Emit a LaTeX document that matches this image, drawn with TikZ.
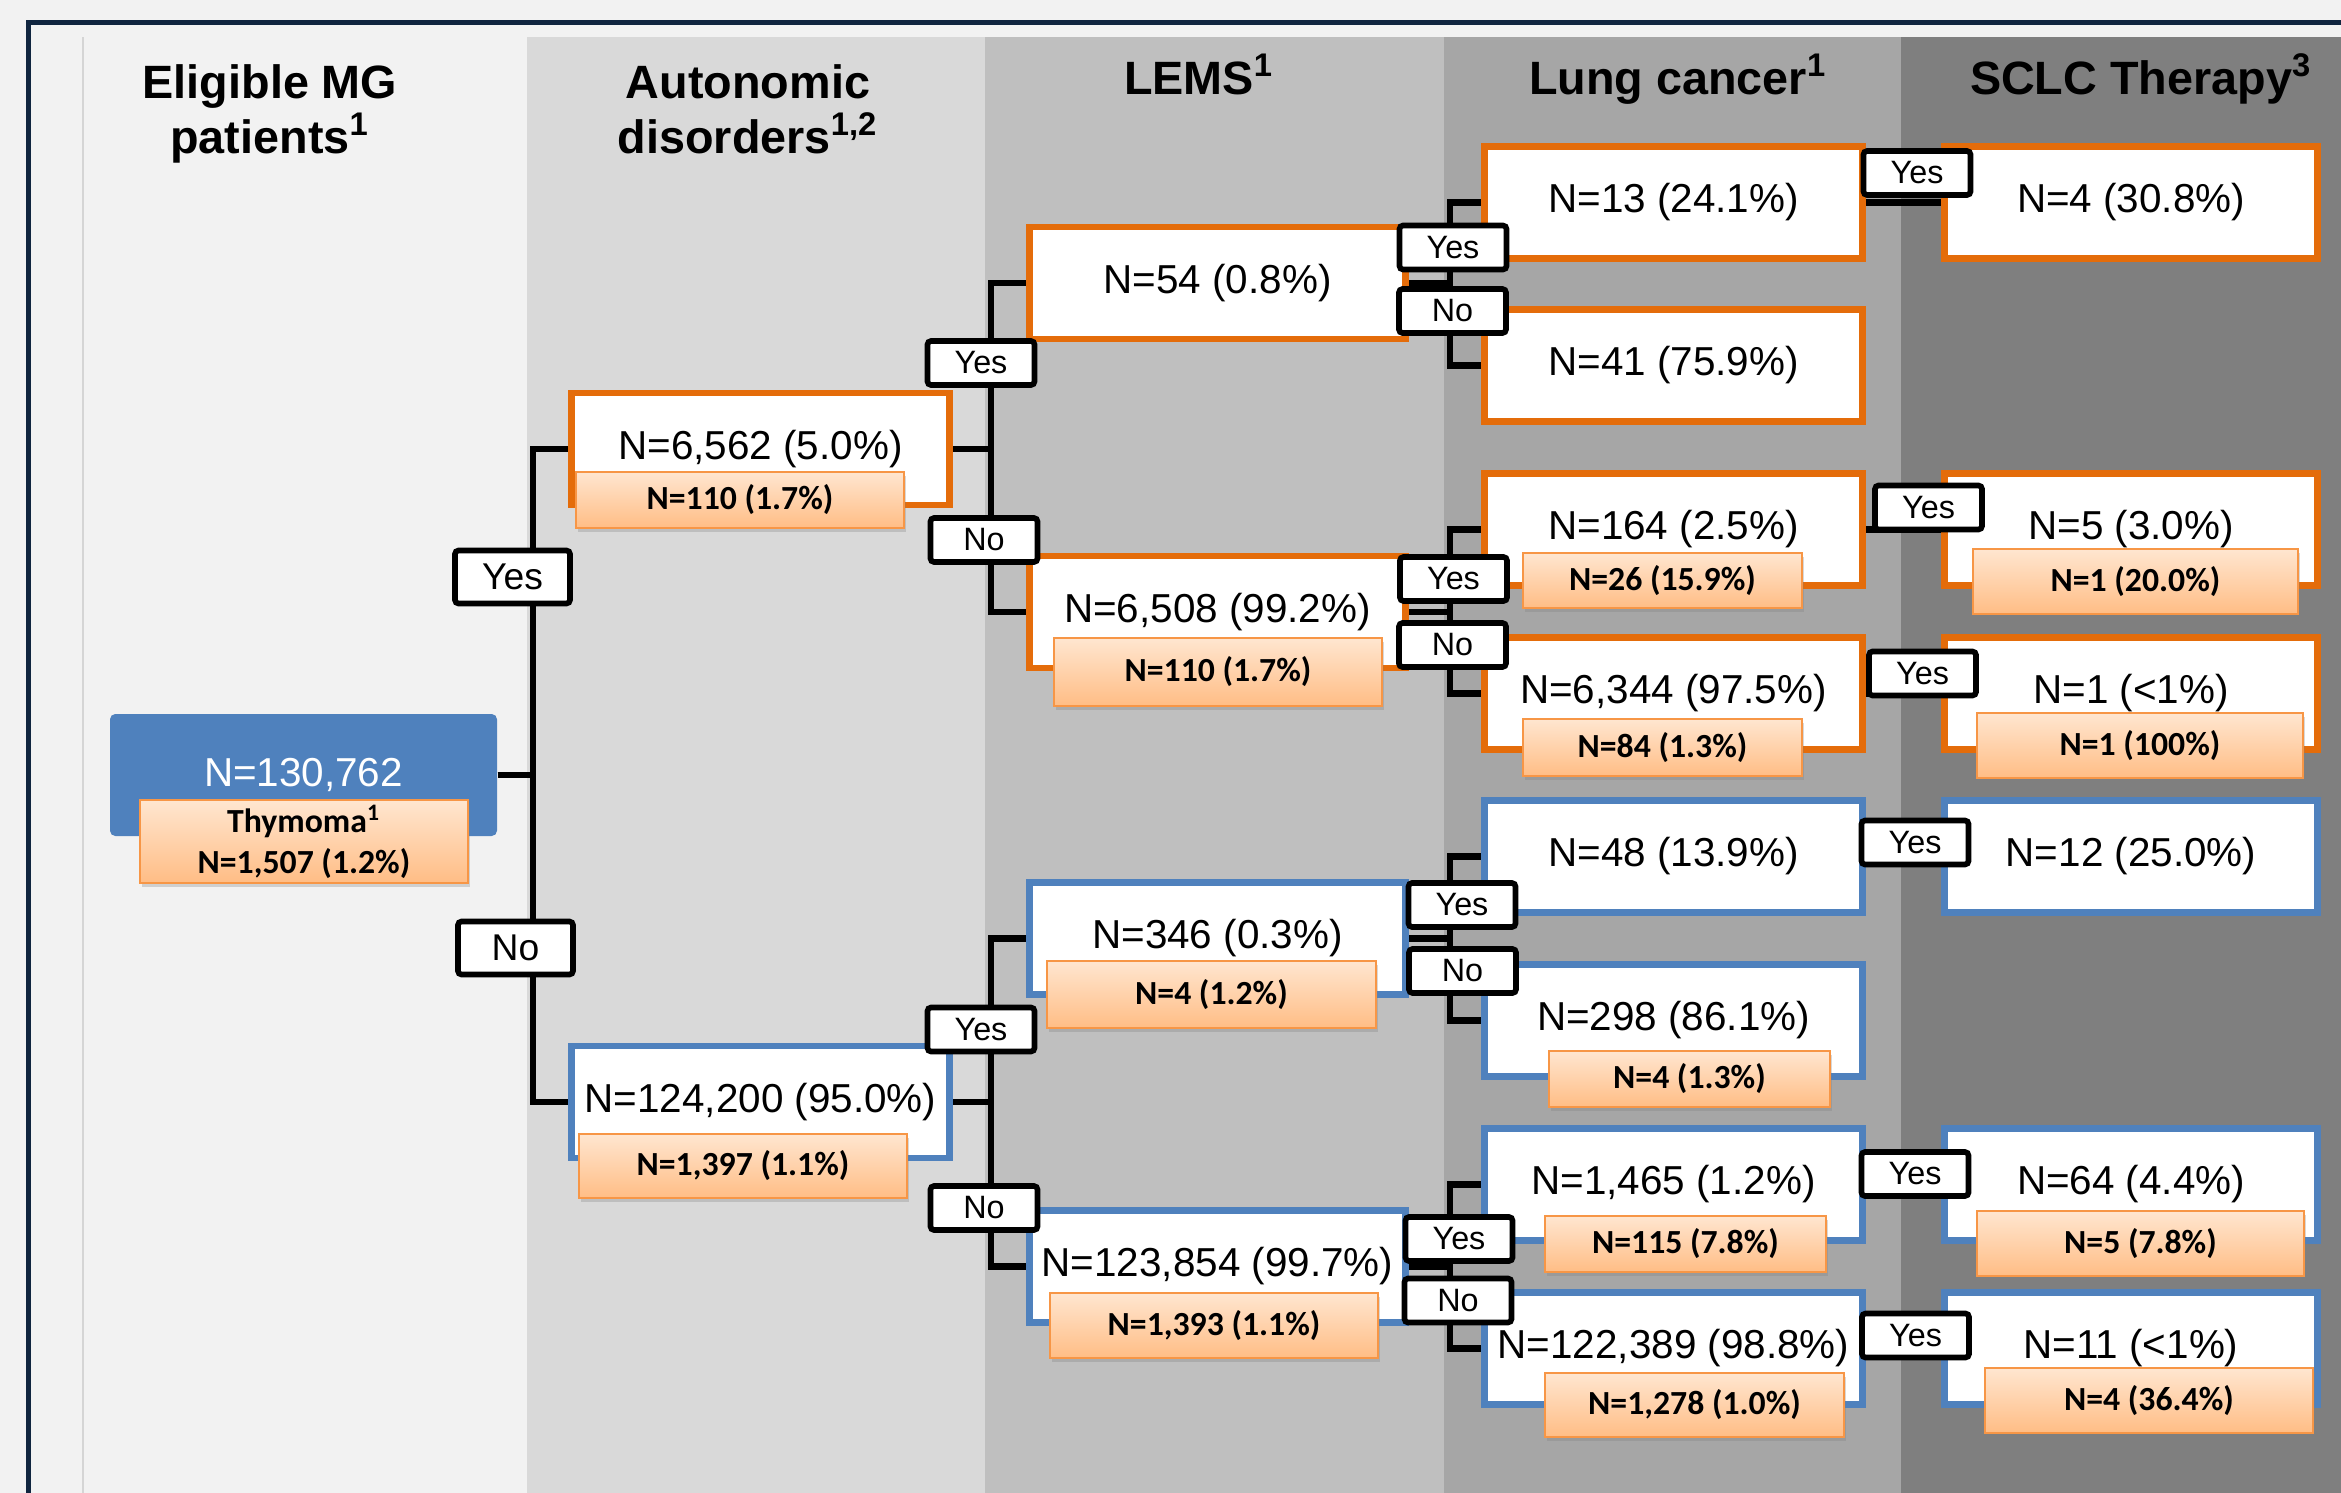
\documentclass[tikz,border=0pt]{standalone}
\usepackage{fontspec}
\setmainfont{Liberation Sans}
\newfontfamily\calibri{Carlito}
\usepackage{tikz}
\usetikzlibrary{positioning,shadows,backgrounds}
\definecolor{Frame}{HTML}{10253F}
\definecolor{Paper}{HTML}{F2F2F2}
\definecolor{ColA}{HTML}{F2F2F2}
\definecolor{ColB}{HTML}{D9D9D9}
\definecolor{ColC}{HTML}{BFBFBF}
\definecolor{ColD}{HTML}{A6A6A6}
\definecolor{ColE}{HTML}{7F7F7F}
\definecolor{Blue}{HTML}{4F81BD}
\definecolor{Orange}{HTML}{E46C0A}
\definecolor{PeachTop}{HTML}{FFE6D0}
\definecolor{PeachBot}{HTML}{FFBD85}
\definecolor{PeachLine}{HTML}{F79646}
\pgfdeclarelayer{cols}
\pgfdeclarelayer{wires}
\pgfsetlayers{cols,wires,main}
\tikzset{
  header/.style={font=\fontsize{13.3}{15.6}\selectfont\bfseries,align=center,anchor=north,inner sep=0pt},
  obox/.style={draw=Orange,line width=1.9pt,fill=white,minimum width=3.78cm,minimum height=1.12cm,
               inner sep=0pt,font=\fontsize{11.5}{13}\selectfont},
  bbox/.style={obox,draw=Blue},
  subbox/.style={draw=PeachLine,line width=0.6pt,top color=PeachTop,bottom color=PeachBot,inner sep=0pt,
               align=center,font=\calibri\bfseries\fontsize{9.6}{11.4}\selectfont,
               drop shadow={shadow xshift=0.02cm,shadow yshift=-0.04cm,opacity=0.3}},
  answer/.style={draw=black,line width=1.6pt,fill=white,rounded corners=1pt,minimum width=1.07cm,
               minimum height=0.44cm,inner sep=0pt,font=\fontsize{9.2}{10}\selectfont},
  bigans/.style={answer,minimum width=1.15cm,minimum height=0.53cm,font=\fontsize{10.6}{12}\selectfont},
  link/.style={line width=1.8pt,draw=black}
}

\begin{document}
\begin{tikzpicture}
  \useasboundingbox (0,0) rectangle (23.41,-14.93);
  \begin{pgfonlayer}{cols}
    \fill[Paper] (0,0) rectangle (23.41,-14.93);
    \fill[ColA] (0.83,-0.37) rectangle (5.27,-14.93);
    \draw[ColA!88!black,line width=0.4pt] (0.83,-14.93) -- (0.83,-0.37);
    \fill[ColB] (5.27,-0.37) rectangle (9.85,-14.93);
    \fill[ColC] (9.85,-0.37) rectangle (14.44,-14.93);
    \fill[ColD] (14.44,-0.37) rectangle (19.01,-14.93);
    \fill[ColE] (19.01,-0.37) rectangle (23.41,-14.93);
    \draw[Frame,line width=0.05cm] (0.29,-14.93) |- (23.41,-0.23);
  \end{pgfonlayer}

  % column heads
  \node[header] (hmg) at (2.70,-0.64) {Eligible MG\\patients\textsuperscript{1}};
  \node[header] (haut) at (7.48,-0.64) {Autonomic\\disorders\textsuperscript{1,2}};
  \node[header] (hlems) at (11.99,-0.53) {LEMS\textsuperscript{1}};
  \node[header] (hlung) at (16.78,-0.53) {Lung cancer\textsuperscript{1}};
  \node[header] (hsclc) at (21.41,-0.53) {SCLC Therapy\textsuperscript{3}};

  % tree
  \node[fill=Blue,rounded corners=1.5pt,minimum width=3.87cm,minimum height=1.22cm,inner sep=0pt,
        text=white,font=\fontsize{11.5}{13}\selectfont] (mg) at (3.035,-7.75) {N=130,762};
  \node[obox] (aut) at (7.605,-4.49) {N=6,562 (5.0\%)};
  \node[bbox] (naut) at (7.605,-11.02) {N=124,200 (95.0\%)};

  \node[obox,minimum width=3.76cm] (lems) at (12.175,-2.83) {N=54 (0.8\%)};
  \node[obox,minimum width=3.76cm] (nlems) at (12.175,-6.12) {N=6,508 (99.2\%)};
  \node[bbox,minimum width=3.76cm] (lemsb) at (12.175,-9.385) {N=346 (0.3\%)};
  \node[bbox,minimum width=3.76cm] (nlemsb) at (12.175,-12.665) {N=123,854 (99.7\%)};

  \node[obox] (lc1) at (16.735,-2.025) {N=13 (24.1\%)};
  \node[obox] (nlc1) at (16.735,-3.655) {N=41 (75.9\%)};
  \node[obox] (lc2) at (16.735,-5.295) {N=164 (2.5\%)};
  \node[obox] (nlc2) at (16.735,-6.935) {N=6,344 (97.5\%)};
  \node[bbox] (lc3) at (16.735,-8.565) {N=48 (13.9\%)};
  \node[bbox] (nlc3) at (16.735,-10.205) {N=298 (86.1\%)};
  \node[bbox] (lc4) at (16.735,-11.845) {N=1,465 (1.2\%)};
  \node[bbox] (nlc4) at (16.735,-13.485) {N=122,389 (98.8\%)};

  \node[obox,minimum width=3.73cm] (tx1) at (21.31,-2.025) {N=4 (30.8\%)};
  \node[obox,minimum width=3.73cm] (tx2) at (21.31,-5.295) {N=5 (3.0\%)};
  \node[obox,minimum width=3.73cm] (tx2b) at (21.31,-6.935) {N=1 (<1\%)};
  \node[bbox,minimum width=3.73cm] (tx3) at (21.31,-8.565) {N=12 (25.0\%)};
  \node[bbox,minimum width=3.73cm] (tx4) at (21.31,-11.845) {N=64 (4.4\%)};
  \node[bbox,minimum width=3.73cm] (tx4b) at (21.31,-13.485) {N=11 (<1\%)};

  \begin{pgfonlayer}{wires}
    \draw[link] (mg.east) -- ++(0.35,0) |- (aut.west);
    \draw[link] (mg.east) -- ++(0.35,0) |- (naut.west);
    \draw[link] (aut.east) -- ++(0.38,0) |- (lems.west);
    \draw[link] (aut.east) -- ++(0.38,0) |- (nlems.west);
    \draw[link] (naut.east) -- ++(0.38,0) |- (lemsb.west);
    \draw[link] (naut.east) -- ++(0.38,0) |- (nlemsb.west);
    \draw[link] (lems.east) -- ++(0.41,0) |- (lc1.west);
    \draw[link] (lems.east) -- ++(0.41,0) |- (nlc1.west);
    \draw[link] (nlems.east) -- ++(0.41,0) |- (lc2.west);
    \draw[link] (nlems.east) -- ++(0.41,0) |- (nlc2.west);
    \draw[link] (lemsb.east) -- ++(0.41,0) |- (lc3.west);
    \draw[link] (lemsb.east) -- ++(0.41,0) |- (nlc3.west);
    \draw[link] (nlemsb.east) -- ++(0.41,0) |- (lc4.west);
    \draw[link] (nlemsb.east) -- ++(0.41,0) |- (nlc4.west);
    \draw[link] (lc1.east) -- (tx1.west);
    \draw[link] (lc2.east) -- (tx2.west);
    \draw[link] (nlc2.east) -- (tx2b.west);
    \draw[link] (lc3.east) -- (tx3.west);
    \draw[link] (lc4.east) -- (tx4.west);
    \draw[link] (nlc4.east) -- (tx4b.west);
  \end{pgfonlayer}

  % thymoma counts
  \node[subbox,minimum width=3.28cm,minimum height=0.83cm] (thy) at (3.04,-8.415) {Thymoma\textsuperscript{1}\\N=1,507 (1.2\%)};
  \node[subbox,minimum width=3.28cm,minimum height=0.56cm] (saut) at (7.40,-5.00) {N=110 (1.7\%)};
  \node[subbox,minimum width=3.28cm,minimum height=0.64cm] (snaut) at (7.43,-11.66) {N=1,397 (1.1\%)};
  \node[subbox,minimum width=3.28cm,minimum height=0.68cm] (snlems) at (12.18,-6.72) {N=110 (1.7\%)};
  \node[subbox,minimum width=3.29cm,minimum height=0.67cm] (slemsb) at (12.115,-9.945) {N=4 (1.2\%)};
  \node[subbox,minimum width=3.28cm,minimum height=0.65cm] (snlemsb) at (12.14,-13.255) {N=1,393 (1.1\%)};
  \node[subbox,minimum width=2.79cm,minimum height=0.55cm] (slc2) at (16.625,-5.805) {N=26 (15.9\%)};
  \node[subbox,minimum width=2.79cm,minimum height=0.57cm] (snlc2) at (16.625,-7.475) {N=84 (1.3\%)};
  \node[subbox,minimum width=2.81cm,minimum height=0.56cm] (snlc3) at (16.895,-10.79) {N=4 (1.3\%)};
  \node[subbox,minimum width=2.81cm,minimum height=0.56cm] (slc4) at (16.855,-12.44) {N=115 (7.8\%)};
  \node[subbox,minimum width=2.99cm,minimum height=0.64cm] (snlc4) at (16.945,-14.05) {N=1,278 (1.0\%)};
  \node[subbox,minimum width=3.25cm,minimum height=0.65cm] (stx2) at (21.355,-5.815) {N=1 (20.0\%)};
  \node[subbox,minimum width=3.26cm,minimum height=0.65cm] (stx2b) at (21.40,-7.455) {N=1 (100\%)};
  \node[subbox,minimum width=3.27cm,minimum height=0.65cm] (stx4) at (21.405,-12.435) {N=5 (7.8\%)};
  \node[subbox,minimum width=3.28cm,minimum height=0.65cm] (stx4b) at (21.49,-14.005) {N=4 (36.4\%)};

  % yes / no tags
  \node[bigans] (y1) at (5.125,-5.77) {Yes};
  \node[bigans] (n1) at (5.155,-9.48) {No};
  \node[answer] (y2a) at (9.81,-3.63) {Yes};
  \node[answer] (n2a) at (9.84,-5.40) {No};
  \node[answer] (y2b) at (9.81,-10.295) {Yes};
  \node[answer] (n2b) at (9.84,-12.08) {No};
  \node[answer] (y3a) at (14.53,-2.475) {Yes};
  \node[answer] (n3a) at (14.525,-3.11) {No};
  \node[answer] (y3b) at (14.535,-5.79) {Yes};
  \node[answer] (n3b) at (14.525,-6.45) {No};
  \node[answer] (y3c) at (14.62,-9.05) {Yes};
  \node[answer] (n3c) at (14.625,-9.71) {No};
  \node[answer] (y3d) at (14.59,-12.39) {Yes};
  \node[answer] (n3d) at (14.58,-13.005) {No};
  \node[answer] (y4a) at (19.17,-1.73) {Yes};
  \node[answer] (y4b) at (19.285,-5.075) {Yes};
  \node[answer] (y4c) at (19.225,-6.735) {Yes};
  \node[answer] (y4d) at (19.15,-8.425) {Yes};
  \node[answer] (y4e) at (19.15,-11.74) {Yes};
  \node[answer] (y4f) at (19.155,-13.355) {Yes};
\end{tikzpicture}
\end{document}
